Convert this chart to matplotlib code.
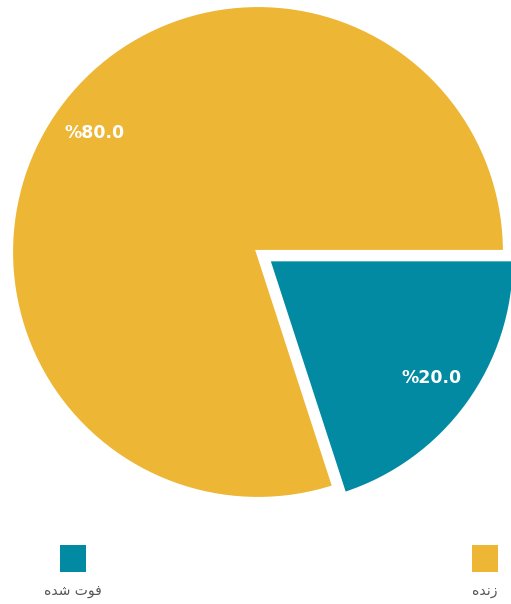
import matplotlib
matplotlib.use("Agg")
import matplotlib.pyplot as plt
from matplotlib.patches import Rectangle

# survival outcome shares
labels = ["زنده", "فوت شده"]
values = [80.0, 20.0]
colors = ["#EDB634", "#018AA2"]
explode = [0, 0.05]

# Arabic script drawn in presentation forms, right-to-left visual order,
# since matplotlib does no shaping of its own
shaped = {
    "زنده": "\uFEE9\uFEAA\uFEE7\uFEAF",
    "فوت شده": "\uFEE9\uFEAA\uFEB7 \uFE95\uFEEE\uFED3",
}

W, H = 511, 604
fig = plt.figure(figsize=(W / 100, H / 100), dpi=100)
fig.patch.set_facecolor("white")

cx, cy, r = 258, 252, 247
ax = fig.add_axes([(cx - r) / W, (H - cy - r) / H, 2 * r / W, 2 * r / H])
ax.set_aspect("equal")
ax.axis("off")

wedges, texts, autotexts = ax.pie(
    values, colors=colors, explode=explode, startangle=0, radius=1,
    autopct=lambda p: "%" + f"{p:.1f}", pctdistance=0.82,
    wedgeprops=dict(edgecolor="white", linewidth=3, joinstyle="miter"),
    textprops=dict(color="white", fontsize=12.5, fontweight="bold"),
)
ax.set_xlim(-1, 1)
ax.set_ylim(-1, 1)
for w in wedges:
    w.set_clip_on(False)

# legend: colored square with the category name underneath
legend_x = [485, 73]
for name, col, lx in zip(labels, colors, legend_x):
    fig.add_artist(Rectangle(((lx - 13) / W, (H - 572) / H), 26 / W, 27 / H,
                             transform=fig.transFigure, facecolor=col,
                             edgecolor="none"))
    fig.text(lx / W, (H - 591) / H, shaped[name], ha="center", va="center",
             fontsize=10, color="#555555", family="DejaVu Sans")

fig.savefig("out.png", dpi=100, facecolor="white")
